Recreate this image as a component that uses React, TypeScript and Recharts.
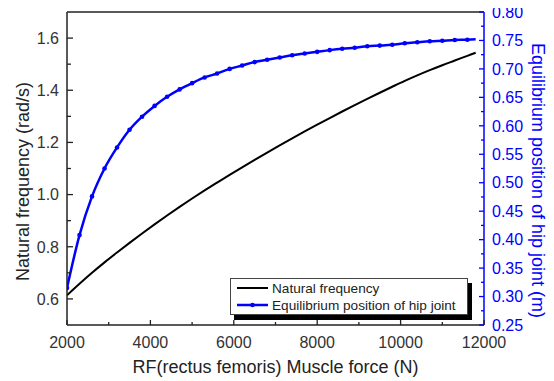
import React from "react";
import { LineChart, Line, XAxis, YAxis, ReferenceLine } from "recharts";

// RF muscle force (N)
const forces = [
  2000, 2300, 2600, 2900, 3200, 3500, 3800, 4100, 4400, 4700, 5000, 5300,
  5600, 5900, 6200, 6500, 6800, 7100, 7400, 7700, 8000, 8300, 8600, 8900,
  9200, 9500, 9800, 10100, 10400, 10700, 11000, 11300, 11600, 11800,
];
// natural frequency (rad/s), left axis
const natFreq = [
  0.614, 0.658, 0.7, 0.74, 0.778, 0.815, 0.851, 0.886, 0.92, 0.953, 0.985, 1.016,
  1.046, 1.0755, 1.1045, 1.133, 1.161, 1.1885, 1.2155, 1.242, 1.268, 1.2935, 1.3185, 1.343,
  1.367, 1.3905, 1.4135, 1.436, 1.457, 1.477, 1.496, 1.514, 1.532, 1.544,
];
// equilibrium position of hip joint (m), right axis
const eqPos = [
  0.315, 0.408, 0.476, 0.525, 0.562, 0.593, 0.616, 0.635, 0.651, 0.664, 0.675, 0.685,
  0.692, 0.7, 0.706, 0.712, 0.716, 0.72, 0.724, 0.727, 0.73, 0.733, 0.7355, 0.7373,
  0.7397, 0.741, 0.7425, 0.745, 0.7468, 0.7485, 0.7496, 0.7508, 0.7513, 0.752,
];

const xTicks = [2000, 3000, 4000, 5000, 6000, 7000, 8000, 9000, 10000, 11000, 12000];
const leftTicks = [0.6, 0.7, 0.8, 0.9, 1.0, 1.1, 1.2, 1.3, 1.4, 1.5, 1.6];
const rightTicks = [
  0.25, 0.275, 0.3, 0.325, 0.35, 0.375, 0.4, 0.425, 0.45, 0.475, 0.5, 0.525,
  0.55, 0.575, 0.6, 0.625, 0.65, 0.675, 0.7, 0.725, 0.75, 0.775, 0.8,
];

const data = forces.map((f, i) => ({ force: f, freq: natFreq[i], pos: eqPos[i] }));

const FONT = '"Liberation Sans", Arial, sans-serif';
const INK = "#222";
const BLUE = "#0000ff";

function BottomTick({ x, y, payload }: any) {
  const v = payload.value;
  const major = v % 2000 === 0;
  return (
    <g>
      <line x1={x} x2={x} y1={y} y2={y - (major ? 5 : 3)} stroke={INK} strokeWidth={1.3} />
      {major && (
        <text x={x} y={y + 23} textAnchor="middle" fontSize={16} fontFamily={FONT} fill="#333">
          {v}
        </text>
      )}
    </g>
  );
}

function LeftTick({ x, y, payload }: any) {
  const v = payload.value;
  const major = Math.round(v * 10) % 2 === 0;
  return (
    <g>
      <line x1={x} x2={x + (major ? 6 : 4)} y1={y} y2={y} stroke={INK} strokeWidth={1.3} />
      {major && (
        <text x={x - 8} y={y} dy="0.36em" textAnchor="end" fontSize={16} fontFamily={FONT} fill="#333">
          {v.toFixed(1)}
        </text>
      )}
    </g>
  );
}

function RightTick({ x, y, payload }: any) {
  const v = payload.value;
  const major = Math.round(v * 1000) % 50 === 0;
  return (
    <g>
      <line x1={x} x2={x - (major ? 5 : 3)} y1={y} y2={y} stroke={BLUE} strokeWidth={1.3} />
      {major && (
        <text x={x + 8} y={y} dy="0.36em" textAnchor="start" fontSize={16} fontFamily={FONT} fill={BLUE}>
          {v.toFixed(2)}
        </text>
      )}
    </g>
  );
}

const leftTitle = (props: any) => {
  const { x, y, height } = props.viewBox;
  const cx = x + 29;
  const cy = y + height / 2 + 13;
  return (
    <text x={cx} y={cy} transform={`rotate(-90, ${cx}, ${cy})`} textAnchor="middle" fontSize={18} fontFamily={FONT} fill={INK}>
      Natural frequency (rad/s)
    </text>
  );
};

const rightTitle = (props: any) => {
  const { x, y, height } = props.viewBox;
  const cx = x + 48;
  const cy = y + height / 2 + 12;
  return (
    <text x={cx} y={cy} transform={`rotate(90, ${cx}, ${cy})`} textAnchor="middle" fontSize={18} fontFamily={FONT} fill={BLUE}>
      Equilibrium position of hip joint (m)
    </text>
  );
};

const bottomTitle = (props: any) => {
  const { x, y, width } = props.viewBox;
  return (
    <text x={x + width / 2} y={y + 48} textAnchor="middle" fontSize={18} fontFamily={FONT} fill={INK}>
      RF(rectus femoris) Muscle force (N)
    </text>
  );
};

function BlueDot(props: any) {
  const { cx, cy, index } = props;
  if (index === forces.length - 1) return <g key={`d-${index}`} />;
  return <circle key={`d-${index}`} cx={cx} cy={cy} r={2.3} fill={BLUE} stroke="none" />;
}

function ChartLegend() {
  return (
    <div
      style={{
        position: "absolute",
        left: 230,
        top: 278,
        width: 238,
        height: 37,
        boxSizing: "border-box",
        border: "1px solid #444",
        background: "#fff",
        boxShadow: "4px 5px 0 #000",
        fontFamily: FONT,
        fontSize: 13.6,
        color: INK,
      }}
    >
      <svg width={34} height={36} style={{ position: "absolute", left: 5, top: -1 }}>
        <line x1={1} x2={32} y1={10} y2={10} stroke="#000" strokeWidth={2} />
        <line x1={1} x2={32} y1={27} y2={27} stroke={BLUE} strokeWidth={2.5} />
        <circle cx={16.5} cy={27} r={2.3} fill={BLUE} />
      </svg>
      <div style={{ position: "absolute", left: 41, top: 1, lineHeight: "17px", whiteSpace: "nowrap" }}>
        Natural frequency
      </div>
      <div style={{ position: "absolute", left: 41, top: 18, lineHeight: "17px", whiteSpace: "nowrap" }}>
        Equilibrium position of hip joint
      </div>
    </div>
  );
}

export default function App() {
  return (
    <div style={{ position: "relative", width: 554, height: 381, margin: "-8px 0 0 -8px" }}>
      <LineChart width={554} height={381} data={data} margin={{ top: 12, right: 0, bottom: 0, left: 0 }}>
        <XAxis
          dataKey="force"
          type="number"
          domain={[2000, 12000]}
          ticks={xTicks}
          interval={0}
          tick={<BottomTick />}
          tickLine={false}
          tickSize={0}
          tickMargin={0}
          height={56}
          axisLine={{ stroke: INK, strokeWidth: 1.5 }}
          label={bottomTitle}
          allowDataOverflow
        />
        <YAxis
          yAxisId="left"
          orientation="left"
          type="number"
          domain={[0.5, 1.7]}
          ticks={leftTicks}
          interval={0}
          tick={<LeftTick />}
          tickLine={false}
          tickSize={0}
          tickMargin={0}
          width={67}
          axisLine={{ stroke: INK, strokeWidth: 1.5 }}
          label={leftTitle}
          allowDataOverflow
        />
        <YAxis
          yAxisId="right"
          orientation="right"
          type="number"
          domain={[0.25, 0.8]}
          ticks={rightTicks}
          interval={0}
          tick={<RightTick />}
          tickLine={false}
          tickSize={0}
          tickMargin={0}
          width={70}
          axisLine={{ stroke: BLUE, strokeWidth: 1.5 }}
          label={rightTitle}
          allowDataOverflow
        />
        <ReferenceLine yAxisId="left" y={1.7} stroke={INK} strokeWidth={1.5} />
        <Line
          yAxisId="left"
          type="monotone"
          dataKey="freq"
          stroke="#000"
          strokeWidth={2}
          dot={false}
          isAnimationActive={false}
        />
        <Line
          yAxisId="right"
          type="monotone"
          dataKey="pos"
          stroke={BLUE}
          strokeWidth={2.5}
          dot={BlueDot}
          isAnimationActive={false}
        />
      </LineChart>
      <ChartLegend />
    </div>
  );
}
